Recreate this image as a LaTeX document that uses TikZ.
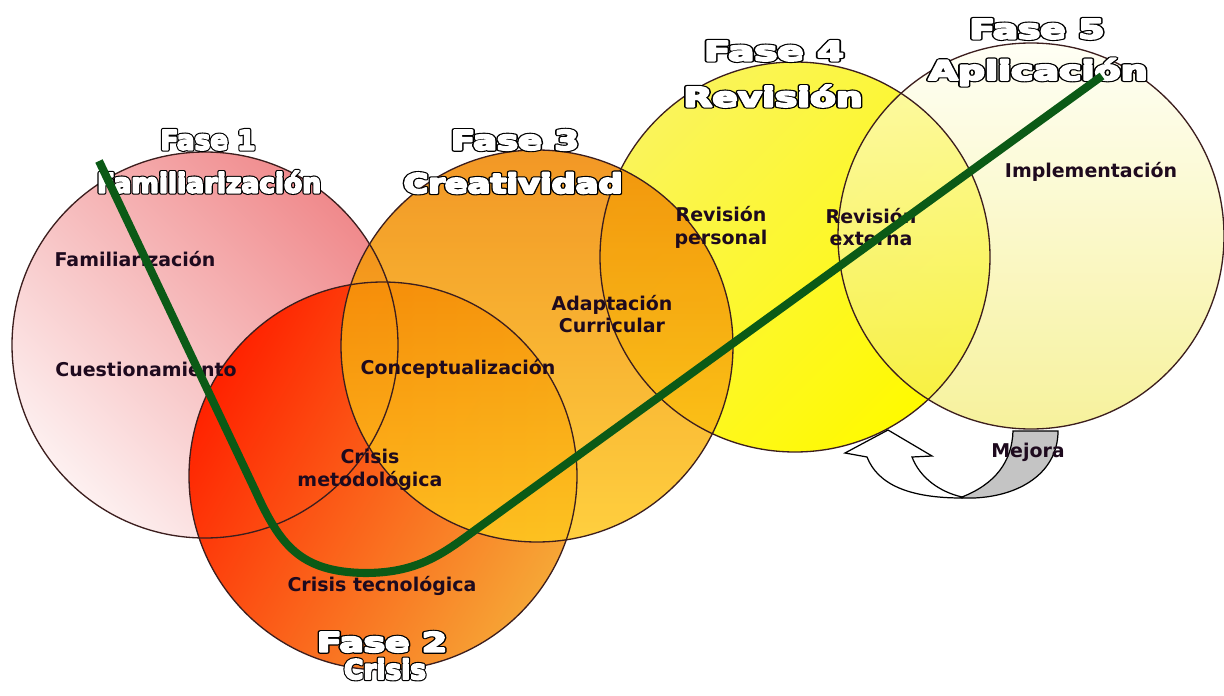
\documentclass[tikz,border=0pt]{standalone}
\usepackage{fontspec}
\setmainfont{DejaVu Sans}
\usepackage{graphicx}
\newlength\unitpx
\setlength\unitpx{0.02cm}
% heavy white letters with a black rim, stretched to a given width
\newcommand\hollowtext[2]{\resizebox{#1\unitpx}{\height}{%
  \rlap{\color{black}\special{pdf:literal direct 2 Tr 2.3 w 1 j}#2}%
  {\color{white}\special{pdf:literal direct 2 Tr 1.0 w 1 j}#2}%
  \special{pdf:literal direct 0 Tr}}}
\definecolor{pinklight}{HTML}{FDF0F0}
\definecolor{pinkdeep}{HTML}{F08A8C}
\definecolor{redhot}{HTML}{FF2200}
\definecolor{redmid}{HTML}{F25A1E}
\definecolor{orangesoft}{HTML}{F6A636}
\definecolor{orangetop}{HTML}{F08600}
\definecolor{orangelow}{HTML}{FFC81E}
\definecolor{yellowlight}{HTML}{FAF45A}
\definecolor{yellowfull}{HTML}{FFFA00}
\definecolor{paletop}{HTML}{FFFFF0}
\definecolor{palelow}{HTML}{F2EA60}
\definecolor{ringc}{HTML}{3C1E1E}
\definecolor{labelc}{HTML}{1E0A1E}
\definecolor{trailc}{HTML}{0B5A16}
\definecolor{backarrow}{HTML}{C4C4C4}
\begin{document}
\begin{tikzpicture}[x=0.02cm,y=-0.02cm,
  ring/.style={draw=ringc, line width=0.75pt},
  lbl/.style={font=\fontsize{10.8}{13}\selectfont\bfseries, text=labelc, align=center, inner sep=0pt},
  ttl/.style={font=\fontsize{15.4}{16}\selectfont\bfseries, inner sep=0pt},
  trail/.style={draw=trailc, line width=4.6pt},
  bent/.style={draw=black, line width=0.7pt, line join=miter}]
\fill[white] (0,0) rectangle (1224,696);
\useasboundingbox (0,0) rectangle (1224,696);

% phase circles
\coordinate (c1) at (205,345);
\coordinate (c2) at (383,476);
\coordinate (c3) at (537,346);
\coordinate (c4) at (795,257);
\coordinate (c5) at (1031,236);

\shade[top color=pinklight, bottom color=pinkdeep, shading angle=135] (c1) circle (193);
\shade[top color=redhot, middle color=redmid, bottom color=orangesoft, shading angle=60] (c2) circle (194);
\shade[top color=yellowlight, middle color=yellowfull, bottom color=yellowfull, shading angle=45] (c4) circle (195);
\shade[top color=orangetop, bottom color=orangelow, fill opacity=0.85] (c3) circle (196);
\shade[top color=paletop, bottom color=palelow, fill opacity=0.62] (c5) circle (193);

\draw[ring] (c1) circle (193);
\draw[ring] (c2) circle (194);
\draw[ring] (c3) circle (196);
\draw[ring] (c4) circle (195);
\draw[ring] (c5) circle (193);

% improvement loop below phases 4 and 5
\filldraw[bent, fill=backarrow] (962,497) .. controls (995,484) and (1012,462) .. (1013,431)
  -- (1058,431) .. controls (1058,475) and (1015,500) .. (962,498) -- cycle;
\filldraw[bent, fill=white] (962,498) .. controls (910,498) and (878,485) .. (867,457)
  -- (845,453) -- (888,430) -- (932,456) -- (912,457)
  .. controls (920,478) and (940,492) .. (962,497) -- cycle;

% activities
\node[lbl] (a1) at (135,259) {Familiarización};
\node[lbl] (a2) at (146,369) {Cuestionamiento};
\node[lbl] (a3) at (458,369) {Conceptualización};
\node[lbl] (a4) at (612,314) {Adaptación\\Curricular};
\node[lbl] (a5) at (370,470) {Crisis\\metodológica};
\node[lbl] (a6) at (382,586) {Crisis tecnológica};
\node[lbl] (a7) at (721,227) {Revisión\\personal};
\node[lbl] (a8) at (871,227) {Revisión\\externa};
\node[lbl] (a9) at (1091,172) {Implementación};
\node[lbl] (a10) at (1028,452) {Mejora};

% phase titles
\node[ttl] (f1) at (208,140) {\hollowtext{95}{Fase 1}};
\node[ttl] (n1) at (209,182) {\hollowtext{224}{Familiarización}};
\node[ttl] (f3) at (515,140) {\hollowtext{128}{Fase 3}};
\node[ttl] (n3) at (513,183) {\hollowtext{219}{Creatividad}};
\node[ttl] (f4) at (774,51) {\hollowtext{140}{Fase 4}};
\node[ttl] (n4) at (773,96) {\hollowtext{179}{Revisión}};
\node[ttl] (f5) at (1037,29) {\hollowtext{135}{Fase 5}};
\node[ttl] (n5) at (1038,72) {\hollowtext{219}{Aplicación}};
\node[ttl] (f2) at (382,642) {\hollowtext{130}{Fase 2}};
\node[ttl] (n2) at (385,669) {\hollowtext{82}{Crisis}};

% path through the phases
\coordinate (s) at (99,161);
\coordinate (e) at (1102,76);
\draw[trail] (s) -- (255,490) .. controls (280,545) and (300,572) .. (365,573)
  .. controls (420,573) and (445,552) .. (478,528) -- (e);
\end{tikzpicture}
\end{document}
